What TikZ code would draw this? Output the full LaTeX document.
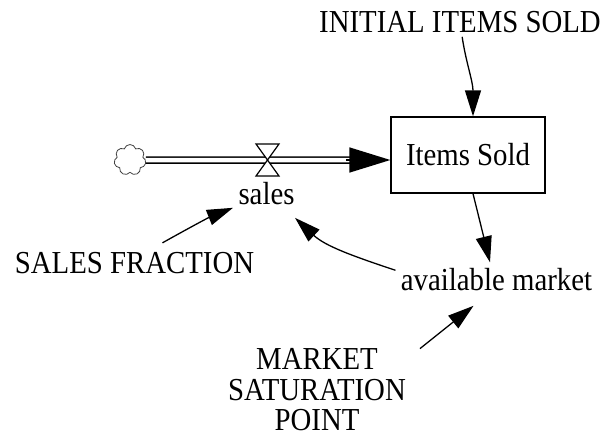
\documentclass[tikz,border=0pt]{standalone}
\usepackage{fontspec}
\setmainfont[FakeStretch=0.9]{Liberation Serif}
\usepackage{tikz}
\usetikzlibrary{arrows.meta,calc,shapes.symbols}

\begin{document}
\begin{tikzpicture}[x=1pt,y=-1pt]
	\path [use as bounding box] (0,0) rectangle (610,436);
	\tikzstyle{label} = [font=\fontsize{32}{30.5}\selectfont, inner sep=3.3pt]
	\tikzstyle{stock} = [label, draw, line width=1.3pt, minimum width=154pt, minimum height=76pt]
	\tikzstyle{source} = [cloud, cloud puffs=7, aspect=1, draw=black!75, line width=0.8pt, minimum width=32pt, minimum height=31pt, inner sep=0pt]
	\tikzstyle{pipe} = [double, double distance=4.5pt, line width=1.5pt]
	\tikzstyle{flowtip} = [line width=1.5pt, -{Triangle[length=41pt,width=25pt]}]
	\tikzstyle{link} = [line width=1.3pt, -{Triangle[length=26pt,width=16pt]}]
	\node[stock] (stock) at (468,155) {Items Sold};
	\node[label, anchor=base] (init) at (460,33) {INITIAL ITEMS SOLD};
	\node[label, anchor=base] (sales) at (266.5,204) {sales};
	\node[label, anchor=base] (sfrac) at (134.5,273) {SALES FRACTION};
	\node[label, anchor=base] (market) at (496.5,290) {available market};
	\node[label, align=center, inner sep=0pt] (msp) at (317,390) {MARKET\\SATURATION\\POINT};
	\node[source] (cloud) at (130,160) {};
	\coordinate (valve) at (267.5,160);
	\draw[pipe] (cloud.east) -- ([shift={(-40,5)}]stock.west);
	\draw[flowtip] ([shift={(-44,5)}]stock.west) -- ([shift={(0,5)}]stock.west);
	\filldraw[fill=white, line width=1.2pt] (valve) ++(-11.5,-16) -- ++(23,0) -- ++(-23,32) -- ++(23,0) -- cycle;
	\draw[link] (init) .. controls +(6,40) and +(0,-35) .. ([shift={(5,0)}]stock.north);
	\draw[link] ([shift={(5,0)}]stock.south) -- ([shift={(-6.5,-2)}]market.north);
	\draw[link] ([shift={(-2,6)}]market.north west) .. controls +(-45,-15) and +(30,28) .. ([shift={(-3,10)}]sales.south east);
	\draw[link] ([shift={(28,-5.5)}]sfrac.north) .. controls +(25,-14) and +(-25,10) .. ([shift={(-2,0)}]sales.south west);
	\draw[link] ([shift={(14,0)}]msp.north east) -- ([shift={(-23,12)}]market.south);
\end{tikzpicture}
\end{document}
